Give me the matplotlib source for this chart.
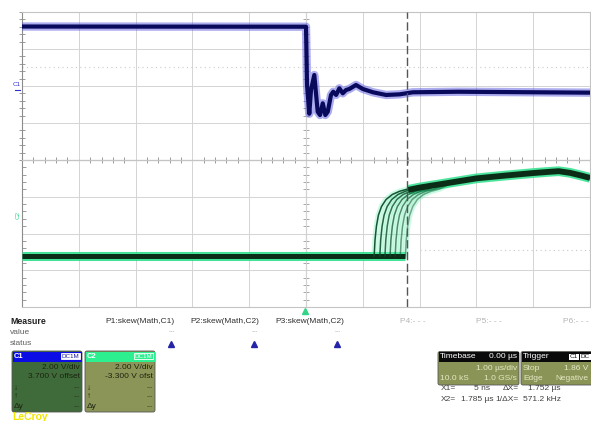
import numpy as np
import matplotlib
matplotlib.use("Agg")
import matplotlib.pyplot as plt
from matplotlib.patches import FancyBboxPatch, Rectangle
from matplotlib.ticker import MultipleLocator

plt.rcParams['font.family'] = ['Liberation Sans', 'DejaVu Sans']

# ---------------- data (time in us, level in V on screen scale) ----------------
c1_t = [-5.0, 0.0, 0.018, 0.058, 0.088, 0.146, 0.206, 0.247, 0.295, 0.34, 0.383,
        0.44, 0.48, 0.53, 0.587, 0.647, 0.705, 0.764, 0.88, 1.0, 1.18, 1.41,
        1.65, 1.88, 2.68, 5.0]
c1_v = [6.43, 6.41, 0.11, -3.0, -0.43, 1.19, -2.78, -3.14, -1.87, -3.14, -2.78,
        -0.97, -0.62, -0.97, -0.25, -0.79, -0.43, -0.32, 0.11, -0.32, -0.68, -0.97,
        -0.9, -0.68, -0.62, -0.72]

c2_low_level = -2.43
c2_edge_starts = [1.20, 1.30, 1.39, 1.48, 1.57, 1.66, 1.75]
c2_edge_dt = [0.0, 0.015, 0.04, 0.075, 0.13, 0.21, 0.32, 0.45, 0.6]
c2_edge_v = [-2.43, -0.7, 0.8, 2.0, 2.95, 3.7, 4.25, 4.6, 4.85]
c2_top_t = [1.8, 2.0, 2.3, 2.6, 3.0, 3.5, 4.0, 4.3, 4.45, 4.65, 4.85, 5.0]
c2_top_v = [4.75, 5.0, 5.3, 5.6, 6.0, 6.3, 6.58, 6.72, 6.78, 6.6, 6.3, 6.05]

trigger_level_c1 = 2.1
ref_level_c2 = -1.78
cursor_x1 = 0.005
cursor_x2 = 1.785

measure_labels = ["P1:skew(Math,C1)", "P2:skew(Math,C2)", "P3:skew(Math,C2)"]
measure_empty = ["P4:- - -", "P5:- - -", "P6:- - -"]

W, H = 591, 421
fig = plt.figure(figsize=(W / 100, H / 100), dpi=100)
fig.patch.set_facecolor('white')

# overlay in pixel coordinates for the readout panels
ov = fig.add_axes([0, 0, 1, 1], zorder=0)
ov.set_xlim(0, W)
ov.set_ylim(H, 0)
ov.axis('off')


def grid_axes(top, bottom):
    ax = fig.add_axes([22 / W, 1 - bottom / H, 568 / W, (bottom - top) / H], zorder=2)
    ax.set_xlim(-5, 5)
    ax.set_ylim(-8, 8)
    ax.set_facecolor('none')
    ax.set_xticks(np.arange(-5, 6, 1))
    ax.set_yticks([-4, 0, 4])
    ax.grid(True, color='#d4d4d4', lw=0.7)
    ax.tick_params(which='major', length=0, labelleft=False, labelbottom=False)
    ax.yaxis.set_minor_locator(MultipleLocator(0.8))
    ax.xaxis.set_minor_locator(MultipleLocator(0.2))
    ax.tick_params(which='minor', left=True, bottom=False, direction='in',
                   length=3, width=0.6, color='#8c8c8c')
    for s in ['top', 'right', 'bottom']:
        ax.spines[s].set_color('#c4c4c4')
        ax.spines[s].set_linewidth(0.8)
    ax.spines['left'].set_color('#8c8c8c')
    ax.spines['left'].set_linewidth(0.8)
    ax.axvline(0, color='#999999', lw=0.8, zorder=1)
    ax.hlines(np.arange(-8, 8.01, 0.8), -0.045, 0.045, color='#999999', lw=0.6, zorder=1)
    ax.axvline(cursor_x2, color='#555555', lw=1.0, ls=(0, (6, 2.5)), zorder=5)
    return ax


ax1 = grid_axes(12, 160)
ax2 = grid_axes(160, 307)
ax1.spines['bottom'].set_color('#8c8c8c')
ax1.tick_params(which='minor', bottom=True, direction='inout', length=4)

# ---- C1 ----
ax1.axhline(trigger_level_c1, color='#c8c8c8', lw=0.8, ls=(0, (1, 3)), zorder=1)
ax1.plot(c1_t, c1_v, color='#5a5ae0', lw=6.0, alpha=0.5, solid_joinstyle='round',
         solid_capstyle='butt', zorder=3)
ax1.plot(c1_t, c1_v, color='#0a0a5c', lw=3.0, solid_joinstyle='round',
         solid_capstyle='butt', zorder=4)

# ---- C2 ----
ax2.hlines(ref_level_c2, 2.0, 5.0, color='#c8c8c8', lw=0.8, ls=(0, (1, 3)), zorder=1)
ax2.plot([-5.0, c2_edge_starts[-1]], [c2_low_level, c2_low_level], color='#2ee08c',
         lw=6.5, alpha=0.9, solid_capstyle='butt', zorder=3)
ax2.plot([-5.0, c2_edge_starts[-1]], [c2_low_level, c2_low_level], color='#0b2c17',
         lw=3.6, solid_capstyle='butt', zorder=4)

traces = []
for t0 in c2_edge_starts:
    tt = [t0 + d for d in c2_edge_dt]
    vv = list(c2_edge_v)
    tail = [(t, v) for t, v in zip(c2_top_t, c2_top_v) if t > tt[-1] + 0.1]
    tt += [p[0] for p in tail]
    vv += [p[1] for p in tail]
    traces.append((tt, vv))
for tt, vv in traces:
    ax2.plot(tt, vv, color='#6cf2b4', lw=4.0, alpha=0.35, solid_joinstyle='round', zorder=3)
for i, (tt, vv) in enumerate(traces):
    ax2.plot(tt, vv, color='#0e4a2a', lw=1.1, alpha=0.95 - 0.08 * i,
             solid_joinstyle='round', zorder=4)
ax2.plot(c2_top_t, c2_top_v, color='#2ee08c', lw=7.0, alpha=0.85, solid_joinstyle='round',
         solid_capstyle='butt', zorder=3)
ax2.plot(c2_top_t, c2_top_v, color='#0b2c17', lw=4.2, solid_joinstyle='round',
         solid_capstyle='butt', zorder=4)

# channel labels at left edge
ov.text(16.5, 85, "C1", fontsize=4.5, color='#3434c4', ha='center', va='center')
ov.plot([15, 20], [89.5, 89.5], color='#3434c4', lw=0.8)
ov.text(18.5, 215, "C2", fontsize=4.5, color='#2cd48c', ha='center', va='center', rotation=90)
# trigger marker
ov.plot([305], [311], marker='^', ms=4, color='#33d488', mec='#33d488')

# ---------------- measure table ----------------
fs = 6.0
ov.text(10, 321.5, "Measure", fontsize=6.3, fontweight='bold', color='#202020', va='center')
ov.text(10, 333, "value", fontsize=fs, color='#606060', va='center')
ov.text(10, 343.5, "status", fontsize=fs, color='#606060', va='center')
for xc, lab in zip([140, 225, 310], measure_labels):
    ov.text(xc, 321.5, lab, fontsize=fs, color='#303030', va='center', ha='center')
for xc in [172, 255, 338]:
    ov.text(xc, 332, "---", fontsize=4.5, color='#9a9a9a', va='center', ha='center')
    ov.plot([xc - 1], [344], marker='^', ms=5, color='#2424a8', mec='#2424a8')
for x0, lab in zip([400, 476, 563], measure_empty):
    ov.text(x0, 321.5, lab, fontsize=fs, color='#b4b4b4', va='center')


# ---------------- channel boxes ----------------
def chan_box(x0, x1, head_col, body_col, name, lines, dc_face, dc_text):
    y0, y1, yh = 351, 412, 361.5
    ov.add_patch(FancyBboxPatch((x0, y0), x1 - x0, y1 - y0,
                                boxstyle="round,pad=0,rounding_size=2",
                                fc=body_col, ec='#555555', lw=0.6))
    ov.add_patch(Rectangle((x0 + 0.5, y0 + 0.5), x1 - x0 - 1, yh - y0 - 0.5, fc=head_col, ec='none'))
    ov.text(x0 + 2, (y0 + yh) / 2 + 0.3, name, fontsize=5.5, color='white', va='center',
            fontweight='bold')
    ov.add_patch(Rectangle((x1 - 21, y0 + 1.8), 19, 6.5, fc=dc_face, ec='white', lw=0.6))
    ov.text(x1 - 11.5, y0 + 5.1, "DC1M", fontsize=4.5, color=dc_text, va='center', ha='center')
    ov.text(x1 - 2, 367.5, lines[0], fontsize=fs, color='#1c2410', va='center', ha='right')
    ov.text(x1 - 2, 377, lines[1], fontsize=fs, color='#1c2410', va='center', ha='right')
    for yy, sym in zip([388, 397, 406.5], ["\u2193", "\u2191", "\u0394y"]):
        ov.text(x0 + 2, yy, sym, fontsize=fs, color='#1c2410', va='center')
        ov.text(x1 - 2, yy, "---", fontsize=4.5, color='#1c2410', va='center', ha='right')


chan_box(12, 82, '#0c0ce4', '#3f6a3a', "C1", ["2.00 V/div", "3.700 V offset"], 'white', '#1a1a9a')
chan_box(85, 155, '#2cf090', '#8c9558', "C2", ["2.00 V/div", "-3.300 V ofst"], '#2cf090', 'white')

ov.text(12, 411.5, "LeCroy", fontsize=7.5, color='#f2e600', va='top', fontweight='bold')


# ---------------- timebase / trigger ----------------
def info_box(x0, x1, title, right_head, rows, rx):
    y0, y1, yh = 351.5, 385, 361.5
    ov.add_patch(FancyBboxPatch((x0, y0), x1 - x0, y1 - y0,
                                boxstyle="round,pad=0,rounding_size=2",
                                fc='#8b9457', ec='#555555', lw=0.6))
    ov.add_patch(Rectangle((x0 + 0.5, y0 + 0.5), x1 - x0 - 1, yh - y0 - 0.5, fc='#0a0a0a', ec='none'))
    ov.text(x0 + 2, (y0 + yh) / 2 + 0.3, title, fontsize=fs, color='white', va='center')
    if right_head:
        ov.text(rx, (y0 + yh) / 2 + 0.3, right_head, fontsize=fs, color='white',
                va='center', ha='right')
    for yy, (l, r) in zip([368.5, 378.5], rows):
        if l:
            ov.text(x0 + 2, yy, l, fontsize=fs, color='#e4e8c4', va='center')
        if r:
            ov.text(rx, yy, r, fontsize=fs, color='#e4e8c4', va='center', ha='right')


info_box(438, 519, "Timebase", "0.00 \u00b5s", [("", "1.00 \u00b5s/div"), ("10.0 kS", "1.0 GS/s")], 517)
info_box(521, 600, "Trigger", None, [("Stop", "1.86 V"), ("Edge", "Negative")], 588)
ov.add_patch(Rectangle((569, 353.5), 10, 6.5, fc='white', ec='none'))
ov.text(574, 356.8, "C1", fontsize=4.6, color='#101010', va='center', ha='center')
ov.add_patch(Rectangle((580, 353.5), 12, 6.5, fc='white', ec='none'))
ov.text(580.5, 356.8, "DC", fontsize=4.6, color='#101010', va='center', ha='left')

tc = '#404040'
ov.text(441, 389, "X1=", fontsize=fs, color=tc, va='center')
ov.text(490, 389, "5 ns", fontsize=fs, color=tc, va='center', ha='right')
ov.text(503, 389, "\u0394X=", fontsize=fs, color=tc, va='center')
ov.text(528, 389, "1.752 \u00b5s", fontsize=fs, color=tc, va='center')
ov.text(441, 399.5, "X2=", fontsize=fs, color=tc, va='center')
ov.text(461, 399.5, "1.785 \u00b5s", fontsize=fs, color=tc, va='center')
ov.text(495, 399.5, "1/\u0394X=", fontsize=fs, color=tc, va='center')
ov.text(523, 399.5, "571.2 kHz", fontsize=fs, color=tc, va='center')

fig.savefig("out.png", dpi=100)
